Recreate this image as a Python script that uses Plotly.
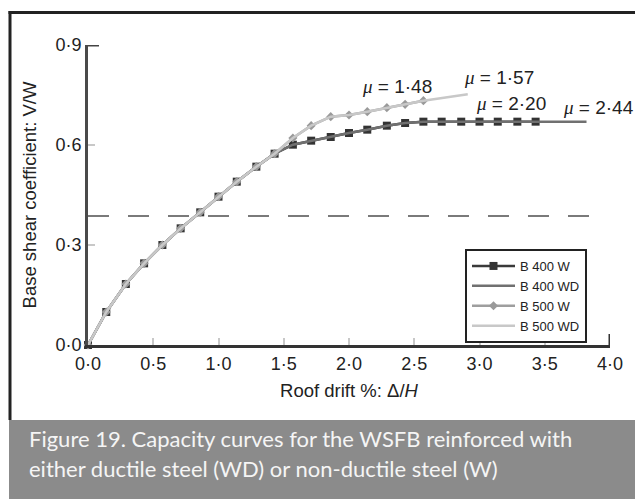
import plotly.graph_objects as go

# ---------------- data ----------------
drift = [0.00, 0.14, 0.29, 0.43, 0.57, 0.71, 0.86, 1.00, 1.14, 1.29, 1.43, 1.57,
         1.71, 1.86, 2.00, 2.14, 2.29, 2.43, 2.57, 2.71, 2.86, 3.00, 3.14, 3.29, 3.43]
b400w = [0.000, 0.099, 0.183, 0.245, 0.300, 0.350, 0.398, 0.445, 0.490, 0.535, 0.574, 0.601,
         0.613, 0.624, 0.636, 0.646, 0.658, 0.666, 0.670, 0.670, 0.670, 0.670, 0.670, 0.670, 0.670]
b500w = [0.000, 0.099, 0.183, 0.245, 0.300, 0.350, 0.398, 0.445, 0.490, 0.535, 0.574, 0.621,
         0.658, 0.685, 0.690, 0.700, 0.712, 0.722, 0.733]
b400wd_end = (3.82, 0.670)
b500wd_end = (2.91, 0.752)
design_level = 0.387
design_x = [0.0, 3.87]

x_ticks = [0.0, 0.5, 1.0, 1.5, 2.0, 2.5, 3.0, 3.5, 4.0]
x_labels = ["0·0", "0·5", "1·0", "1·5", "2·0", "2·5", "3·0", "3·5", "4·0"]
y_ticks = [0.0, 0.3, 0.6, 0.9]
y_labels = ["0·0", "0·3", "0·6", "0·9"]

MU = "<span style='font-family:Liberation Serif'><i>μ</i></span>"
mu_values = ["1·48", "1·57", "2·20", "2·44"]
mu_x = [2.37, 3.15, 3.24, 3.91]
mu_y = [0.775, 0.803, 0.724, 0.712]

caption_1 = "Figure 19. Capacity curves for the WSFB reinforced with"
caption_2 = "either ductile steel (WD) or non-ductile steel (W)"

# ---------------- layout geometry ----------------
W, H = 643, 499
OFF = 8  # page body margin
ML, MR, MT, MB = 80, 41, 37, 162
PW, PH = W - ML - MR, H - MT - MB


def px(xs):
    """screen x -> paper x"""
    return (xs - OFF - ML) / PW


def py(ys):
    """screen y -> paper y"""
    return (H - MB - (ys - OFF)) / PH


FONT = "Liberation Sans, Arial, sans-serif"

fig = go.Figure()

fig.add_trace(go.Scatter(
    x=drift, y=b400w, name="B 400 W", mode="lines+markers",
    line=dict(color="#3a3a3a", width=2.5),
    marker=dict(symbol="square", size=8, color="#333333"),
    cliponaxis=False))
fig.add_trace(go.Scatter(
    x=drift + [b400wd_end[0]], y=b400w + [b400wd_end[1]], name="B 400 WD", mode="lines",
    line=dict(color="#707070", width=2.5), cliponaxis=False))
fig.add_trace(go.Scatter(
    x=drift[:len(b500w)], y=b500w, name="B 500 W", mode="lines+markers",
    line=dict(color="#9e9e9e", width=2.5),
    marker=dict(symbol="diamond", size=7, color="#9a9a9a"),
    cliponaxis=False))
fig.add_trace(go.Scatter(
    x=drift[:len(b500w)] + [b500wd_end[0]], y=b500w + [b500wd_end[1]], name="B 500 WD",
    mode="lines", line=dict(color="#c8c8c8", width=2.5), cliponaxis=False))
fig.add_trace(go.Scatter(
    x=design_x, y=[design_level, design_level], mode="lines", showlegend=False,
    line=dict(color="#7a7a7a", width=2, dash="21px,19px"), hoverinfo="skip"))

for v, xx, yy in zip(mu_values, mu_x, mu_y):
    fig.add_annotation(x=xx, y=yy, xref="x", yref="y", text=f"{MU} = {v}", showarrow=False,
                       font=dict(family=FONT, size=19, color="#222222"),
                       xanchor="center", yanchor="middle")

# frame, caption band
shapes = [
    dict(type="rect", xref="paper", yref="paper", x0=px(9), x1=px(700), y0=py(420), y1=py(560),
         fillcolor="#8b8b8b", line=dict(width=0), layer="below"),
    dict(type="line", xref="paper", yref="paper", x0=px(10), x1=px(10), y0=py(11), y1=py(420),
         line=dict(color="#222222", width=3)),
    dict(type="line", xref="paper", yref="paper", x0=px(8.5), x1=px(700), y0=py(12.5), y1=py(12.5),
         line=dict(color="#222222", width=3)),
    # axis end caps
    dict(type="line", xref="x", yref="y", xsizemode="pixel", xanchor=0, x0=-1, x1=11,
         y0=0.9, y1=0.9, line=dict(color="#444444", width=3)),
    dict(type="line", xref="x", yref="y", ysizemode="pixel", yanchor=0, y0=-1, y1=11,
         x0=4.0, x1=4.0, line=dict(color="#333333", width=3)),
]

fig.add_annotation(xref="paper", yref="paper", x=px(27), y=py(438), text=caption_1,
                   showarrow=False, xanchor="left", yanchor="middle",
                   font=dict(family="Lato, sans-serif", size=22, color="#f5f5f5"))
fig.add_annotation(xref="paper", yref="paper", x=px(27), y=py(468), text=caption_2,
                   showarrow=False, xanchor="left", yanchor="middle",
                   font=dict(family="Lato, sans-serif", size=22, color="#f5f5f5"))

fig.update_layout(
    width=W, height=H,
    margin=dict(l=ML, r=MR, t=MT, b=MB, pad=0),
    paper_bgcolor="white", plot_bgcolor="white",
    font=dict(family=FONT, size=18, color="#222222"),
    shapes=shapes,
    showlegend=True,
    legend=dict(x=px(465), y=py(249), xanchor="left", yanchor="top",
                bgcolor="white", bordercolor="#222222", borderwidth=2,
                font=dict(family=FONT, size=13, color="#222222"),
                tracegroupgap=0, itemwidth=43),
    xaxis=dict(range=[0, 4.0], tickvals=x_ticks, ticktext=x_labels,
               showgrid=False, zeroline=False, showline=True, linecolor="#333333", linewidth=3,
               ticks="inside", ticklen=7, tickwidth=1.5, tickcolor="#c8c8c8",
               tickfont=dict(size=18, color="#222222"),
               title=dict(text="Roof drift %: Δ/<i>H</i>", font=dict(size=18.5, color="#222222"),
                          standoff=12)),
    yaxis=dict(range=[0, 0.9], tickvals=y_ticks, ticktext=y_labels,
               showgrid=False, zeroline=False, showline=True, linecolor="#4a4a4a", linewidth=3,
               ticks="inside", ticklen=7, tickwidth=1.5, tickcolor="#c8c8c8",
               tickfont=dict(size=18, color="#222222"),
               title=dict(text="Base shear coefficient: V/W", font=dict(size=18.5, color="#222222"),
                          standoff=14)),
)

fig.write_html("out.html")
